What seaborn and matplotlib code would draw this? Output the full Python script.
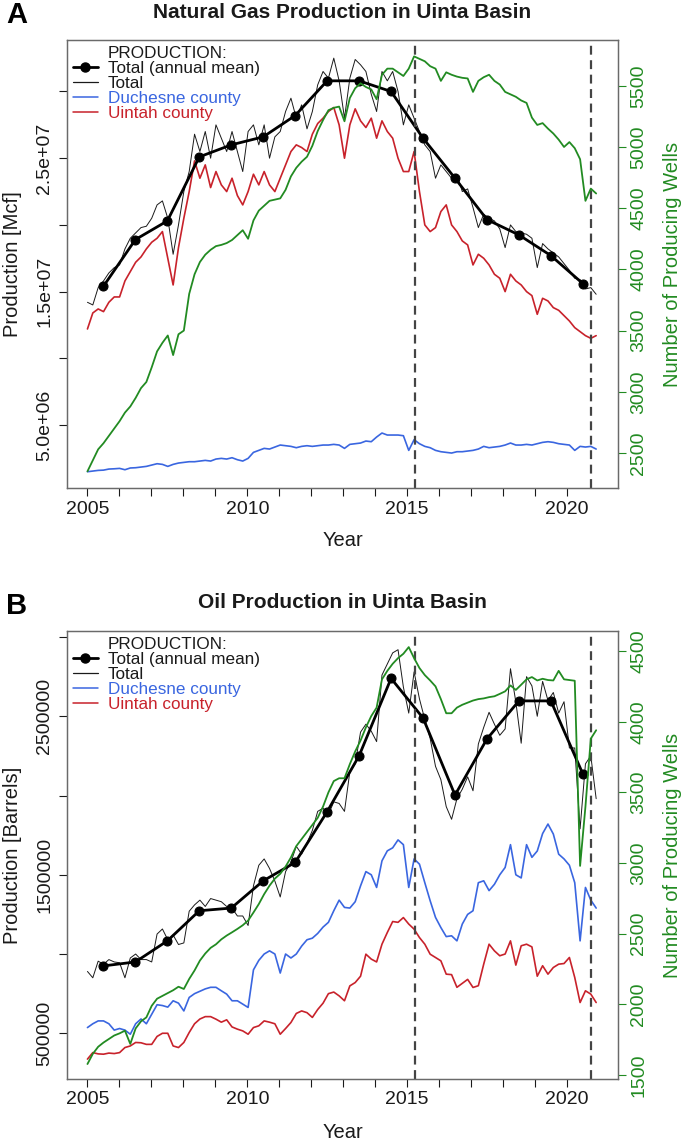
import numpy as np
import pandas as pd
import matplotlib
matplotlib.use('Agg')
import matplotlib.pyplot as plt
import seaborn as sns
from matplotlib.lines import Line2D

# ---- values, one reading every second month (Jan 2005 - Dec 2020) ----
months = 2005 + np.linspace(0, 191, 96) / 12
years = np.arange(2005, 2021) + 0.5
events = [2015.25, 2020.75]

# natural gas production, million Mcf
gas_total = [14.2, 14.0, 15.3, 15.8, 16.4, 16.8,  17.0, 18.2, 19.0, 19.4, 19.8, 19.9,
             20.5, 21.5, 21.8, 20.5, 17.8, 20.0,  22.5, 24.0, 26.8, 25.5, 27.0, 25.0,
             27.5, 26.5, 25.5, 27.0, 25.5, 24.0,  27.0, 27.5, 26.0, 27.5, 25.0, 26.6,
             27.0, 28.5, 29.5, 28.0, 29.0, 27.2,  28.5, 30.5, 31.5, 31.0, 32.5, 30.8,
             28.0, 31.0, 32.4, 32.0, 31.5, 29.8,  28.5, 31.5, 30.8, 31.5, 30.0, 27.5,
             29.0, 28.0, 27.0, 26.0, 25.5, 23.5,  24.5, 24.0, 23.5, 23.8, 22.5, 22.7,
             21.3, 19.8, 20.8, 20.5, 20.3, 19.7,  18.3, 20.0, 19.5, 19.4, 19.3, 19.0,
             16.8, 18.6, 18.2, 17.9, 17.6, 17.1,  16.6, 16.0, 15.9, 15.2, 15.3, 14.8]
gas_uintah = [12.2, 13.4, 13.7, 13.5, 14.2, 14.6,  14.6, 15.8, 16.5, 17.2, 17.6, 18.2,
              18.7, 19.0, 19.5, 17.5, 15.5, 18.3,  20.5, 22.5, 24.8, 23.5, 24.5, 22.8,
              24.0, 23.0, 22.5, 23.5, 22.2, 21.5,  22.5, 23.8, 23.0, 24.0, 23.0, 22.5,
              23.5, 24.5, 25.5, 26.0, 25.8, 25.5,  26.8, 27.6, 28.0, 28.5, 28.8, 27.5,
              25.0, 27.5, 28.7, 27.8, 27.3, 28.0,  26.5, 27.8, 27.0, 26.5, 25.0, 24.0,
              24.0, 25.5, 22.5, 20.0, 19.5, 19.8,  21.0, 21.5, 20.0, 19.5, 18.8, 18.5,
              17.0, 17.8, 17.5, 17.0, 16.3, 16.0,  15.0, 16.3, 15.8, 15.5, 15.0, 14.7,
              13.3, 14.5, 14.3, 13.8, 13.6, 13.2,  12.8, 12.3, 12.0, 11.7, 11.5, 11.7]
gas_duchesne = [1.50, 1.55, 1.60, 1.62, 1.70, 1.72,  1.75, 1.65, 1.78, 1.80, 1.85, 1.90,
                2.00, 2.10, 2.05, 1.90, 2.05, 2.15,  2.20, 2.25, 2.25, 2.30, 2.35, 2.30,
                2.45, 2.50, 2.45, 2.55, 2.40, 2.30,  2.50, 2.95, 3.10, 3.25, 3.20, 3.35,
                3.50, 3.45, 3.40, 3.30, 3.40, 3.45,  3.40, 3.45, 3.50, 3.50, 3.55, 3.50,
                3.25, 3.55, 3.60, 3.65, 3.80, 3.75,  4.10, 4.40, 4.25, 4.25, 4.25, 4.20,
                3.10, 3.90, 3.60, 3.40, 3.30, 3.10,  3.00, 2.95, 2.90, 3.00, 3.00, 3.05,
                3.10, 3.20, 3.40, 3.30, 3.35, 3.40,  3.50, 3.65, 3.50, 3.50, 3.55, 3.50,
                3.60, 3.70, 3.75, 3.70, 3.60, 3.55,  3.50, 3.10, 3.40, 3.35, 3.40, 3.20]
gas_wells = [2350, 2440, 2530, 2580, 2640, 2700,  2760, 2830, 2880, 2950, 3030, 3080,
             3200, 3330, 3400, 3460, 3300, 3470,  3500, 3800, 3960, 4060, 4120, 4160,
             4190, 4200, 4215, 4240, 4280, 4320,  4250, 4400, 4480, 4520, 4560, 4570,
             4580, 4650, 4760, 4830, 4880, 4920,  5010, 5130, 5220, 5300, 5320, 5330,
             5210, 5400, 5480, 5520, 5490, 5470,  5390, 5590, 5640, 5640, 5610, 5580,
             5640, 5740, 5720, 5700, 5660, 5640,  5540, 5610, 5590, 5575, 5565, 5560,
             5450, 5540, 5570, 5590, 5540, 5510,  5450, 5430, 5410, 5380, 5360, 5240,
             5180, 5195, 5150, 5110, 5060, 5000,  5040, 4990, 4900, 4560, 4660, 4620]
gas_annual = [15.4, 18.9, 20.3, 25.1, 26.0, 26.6, 28.2, 30.8,
              30.8, 30.0, 26.5, 23.5, 20.4, 19.25, 17.7, 15.6]

# oil production, thousand barrels
oil_total = [890, 850, 955, 935, 965, 950,  945, 850, 975, 1000, 965, 965,
             950, 1126, 1158, 1090, 1120, 1060,  1070, 1270, 1310, 1340, 1300, 1350,
             1340, 1330, 1300, 1290, 1240, 1240,  1180, 1430, 1560, 1600, 1540, 1460,
             1360, 1520, 1580, 1680, 1630, 1700,  1780, 1900, 1920, 1880, 1960, 1950,
             1900, 2150, 2200, 2400, 2450, 2406,  2340, 2760, 2830, 2900, 2920, 2684,
             2520, 2780, 2610, 2480, 2360, 2184,  2100, 1930, 1850, 1980, 2040, 2118,
             2030, 2325, 2430, 2525, 2450, 2380,  2420, 2800, 2590, 2330, 2750, 2692,
             2500, 2720, 2600, 2650, 2520, 2592,  2300, 2300, 1790, 2200, 2250, 1980]
oil_duchesne = [536, 560, 578, 578, 560, 520,  530, 520, 494, 560, 590, 560,
                620, 680, 675, 665, 705, 690,  641, 726, 750, 765, 780, 790,
                790, 768, 747, 705, 705, 684,  663, 900, 960, 1000, 1020, 1000,
                880, 1000, 975, 1000, 1050, 1090,  1100, 1130, 1170, 1200, 1273, 1340,
                1294, 1290, 1330, 1430, 1520, 1500,  1420, 1588, 1651, 1670, 1720, 1690,
                1420, 1600, 1567, 1450, 1336, 1231,  1167, 1110, 1115, 1083, 1189, 1250,
                1273, 1450, 1462, 1400, 1440, 1500,  1546, 1690, 1500, 1480, 1690, 1610,
                1650, 1760, 1820, 1757, 1630, 1600,  1560, 1450, 1083, 1420, 1340, 1290]
oil_uintah = [337, 378, 370, 368, 375, 372,  378, 410, 420, 442, 440, 430,
              430, 480, 500, 500, 420, 410,  442, 505, 560, 590, 605, 605,
              589, 570, 585, 540, 526, 515,  494, 536, 547, 578, 570, 560,
              494, 530, 568, 625, 641, 630,  600, 650, 690, 750, 760, 736,
              705, 799, 820, 860, 999, 968,  950, 1062, 1136, 1205, 1200, 1230,
              1189, 1157, 1104, 1062, 999, 978,  957, 873, 870, 790, 815, 840,
              789, 800, 936, 1062, 1020, 989,  1000, 1083, 930, 1052, 1062, 1045,
              860, 926, 873, 915, 936, 940,  978, 852, 694, 768, 747, 694]
oil_wells = [1578, 1650, 1700, 1730, 1755, 1780,  1795, 1814, 1720, 1830, 1880, 1908,
             1990, 2040, 2060, 2080, 2100, 2125,  2109, 2180, 2240, 2310, 2360, 2400,
             2425, 2460, 2487, 2510, 2534, 2560,  2593, 2650, 2710, 2780, 2840, 2890,
             2924, 2975, 3040, 3120, 3170, 3220,  3270, 3320, 3400, 3500, 3580, 3600,
             3600, 3700, 3790, 3867, 3960, 4040,  4100, 4300, 4360, 4410, 4450, 4481,
             4528, 4450, 4380, 4330, 4292, 4250,  4160, 4060, 4060, 4100, 4120, 4135,
             4150, 4160, 4165, 4174, 4180, 4197,  4215, 4257, 4225, 4262, 4300, 4316,
             4292, 4304, 4295, 4292, 4360, 4300,  4295, 4290, 2980, 3400, 3880, 3940]
oil_annual = [925, 950, 1083, 1273, 1290, 1462, 1578, 1898,
              2251, 2739, 2489, 2003, 2357, 2597, 2597, 2136]

gas = pd.DataFrame({'date': months, 'Total': np.array(gas_total) * 1e6,
                    'Duchesne': np.array(gas_duchesne) * 1e6,
                    'Uintah': np.array(gas_uintah) * 1e6, 'Wells': gas_wells})
oil = pd.DataFrame({'date': months, 'Total': np.array(oil_total) * 1e3,
                    'Duchesne': np.array(oil_duchesne) * 1e3,
                    'Uintah': np.array(oil_uintah) * 1e3, 'Wells': oil_wells})

GREEN = '#228b22'
BLUE = '#3a66e0'
RED = '#c8222b'
INK = '#1a1a1a'
BOX = '#6a6a6a'

sns.set_style('ticks')
plt.rcParams['font.family'] = ['Liberation Sans', 'DejaVu Sans']

W, H = 685, 1142
fig = plt.figure(figsize=(W / 100, H / 100), dpi=100)


def px(x, y):
    return x / W, 1 - y / H


def draw_panel(top, df, annual, scale, title, letter, ylabel, ylim, wlim,
               yticks, ylabels, wticks):
    left, right, bottom = 67, 618, top + 448
    ax = fig.add_axes([left / W, 1 - bottom / H, (right - left) / W, (bottom - top) / H])
    sns.lineplot(data=df, x='date', y='Uintah', color=RED, lw=1.2, ax=ax)
    sns.lineplot(data=df, x='date', y='Duchesne', color=BLUE, lw=1.2, ax=ax)
    sns.lineplot(data=df, x='date', y='Total', color=INK, lw=0.7, ax=ax)
    sns.lineplot(x=years, y=np.array(annual) * scale, color='black',
                 lw=2.0, marker='o', markersize=6.5, markeredgecolor='black', ax=ax)
    for e in events:
        ax.axvline(e, color='#444444', lw=1.6, ls=(0, (4, 2.5)))

    tw = ax.twinx()
    sns.lineplot(data=df, x='date', y='Wells', color=GREEN, lw=1.3, ax=tw)

    ax.set_xlim(2004.36, 2021.6)
    ax.set_ylim(*ylim)
    tw.set_ylim(*wlim)
    ax.set_xlabel('')
    ax.set_ylabel('')
    tw.set_ylabel('')

    ax.set_xticks(range(2005, 2021), [str(y) if y % 5 == 0 else '' for y in range(2005, 2021)])
    ax.set_yticks(yticks, ylabels)
    tw.set_yticks(wticks, [str(w) for w in wticks])
    ax.tick_params(axis='both', direction='out', length=6, width=0.8, color=INK,
                   labelsize=14, labelcolor=INK)
    ax.tick_params(axis='x', pad=3)
    ax.tick_params(axis='y', labelrotation=90, pad=4)
    tw.tick_params(axis='y', direction='out', length=6, width=0.8, color=GREEN,
                   labelsize=14, labelcolor=GREEN, labelrotation=90, pad=3)
    for t in ax.get_yticklabels() + tw.get_yticklabels():
        t.set_va('center')
    for a in (ax, tw):
        for s in a.spines.values():
            s.set_color(BOX)
            s.set_linewidth(0.9)

    handles = [Line2D([], [], color='none'),
               Line2D([], [], color='black', lw=2.0, marker='o', ms=6.5),
               Line2D([], [], color=INK, lw=0.9),
               Line2D([], [], color=BLUE, lw=1.1),
               Line2D([], [], color=RED, lw=1.1)]
    labels = ['PRODUCTION:', 'Total (annual mean)', 'Total', 'Duchesne county', 'Uintah county']
    tw.legend(handles, labels, loc='upper left', bbox_to_anchor=(0, 1), frameon=False,
              fontsize=12.3, labelcolor=[INK, INK, INK, BLUE, RED], handlelength=1.45,
              handletextpad=0.6, labelspacing=0.0, borderaxespad=0.0, borderpad=0.35)

    mid = (top + bottom) / 2
    fig.text(*px(342, top - 28), title, ha='center', va='center', fontsize=15,
             fontweight='bold', color=INK)
    fig.text(*px(17, top - 25), letter, ha='center', va='center', fontsize=21,
             fontweight='bold', color='black')
    fig.text(*px(13, mid), ylabel, ha='center', va='center', rotation=90,
             fontsize=14.5, color=INK)
    fig.text(*px(672, mid), 'Number of Producing Wells', ha='center', va='center',
             rotation=90, fontsize=14.5, color=GREEN)
    fig.text(*px(343, bottom + 53), 'Year', ha='center', va='center', fontsize=14.5, color=INK)


draw_panel(40, gas, gas_annual, 1e6, 'Natural Gas Production in Uinta Basin', 'A',
           'Production [Mcf]', (0.28e6, 33.86e6), (2214, 5874),
           [5e6, 1e7, 1.5e7, 2e7, 2.5e7, 3e7],
           ['5.0e+06', '', '1.5e+07', '', '2.5e+07', ''],
           list(range(2500, 5501, 500)))
draw_panel(631, oil, oil_annual, 1e3, 'Oil Production in Uinta Basin', 'B',
           'Production [Barrels]', (2.115e5, 3.038e6), (1472, 4642),
           [5e5, 1e6, 1.5e6, 2e6, 2.5e6, 3e6],
           ['500000', '', '1500000', '', '2500000', ''],
           list(range(1500, 4501, 500)))

fig.savefig('out.png', dpi=100)
